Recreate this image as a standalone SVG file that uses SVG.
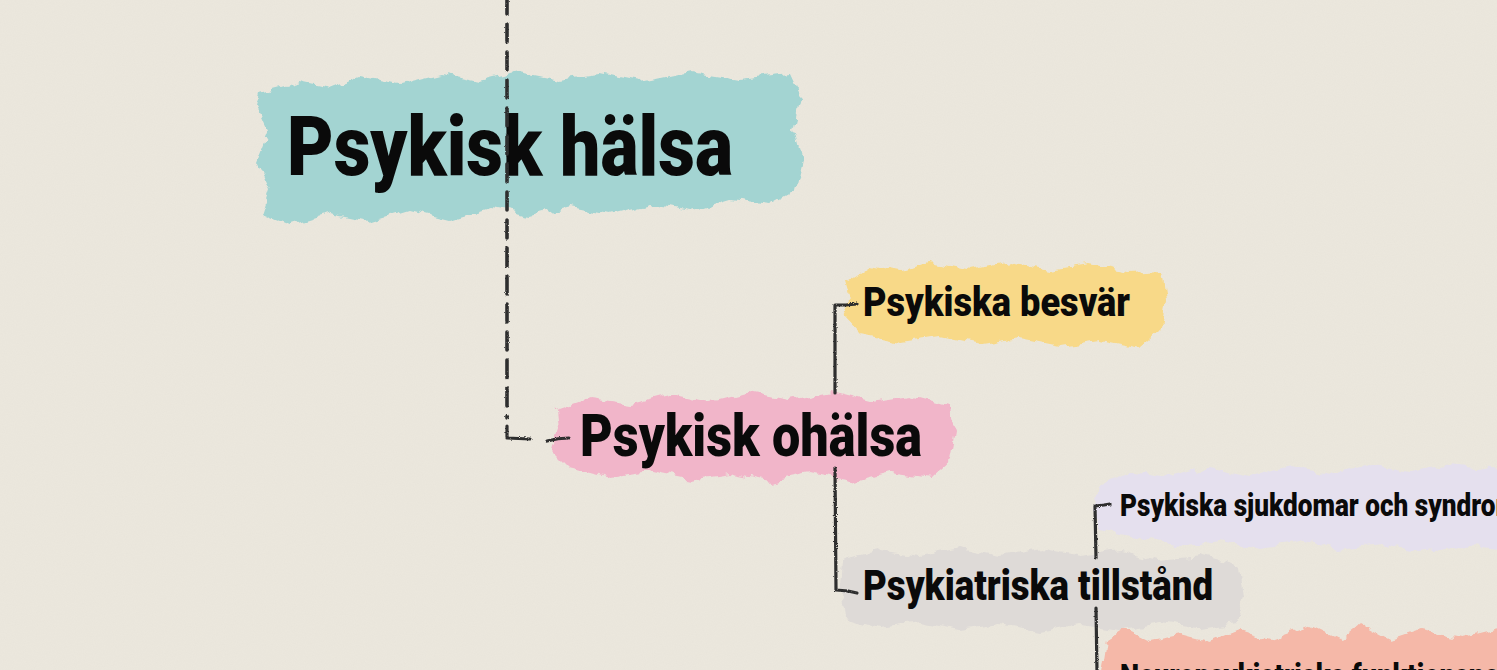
<svg xmlns="http://www.w3.org/2000/svg" width="1497" height="670" viewBox="0 0 1497 670">
  <defs>
    <filter id="paper" x="0" y="0" width="100%" height="100%">
      <feTurbulence type="fractalNoise" baseFrequency="0.9" numOctaves="3" seed="3" result="n"/>
      <feColorMatrix in="n" type="matrix" values="0 0 0 0 0.55  0 0 0 0 0.52  0 0 0 0 0.47  0 0 0 0.10 0" result="c"/>
      <feComposite in="c" in2="SourceGraphic" operator="over"/>
    </filter>
    <filter id="brush" x="-5%" y="-20%" width="110%" height="140%">
      <feTurbulence type="fractalNoise" baseFrequency="0.06" numOctaves="3" seed="7" result="t"/>
      <feDisplacementMap in="SourceGraphic" in2="t" scale="12" xChannelSelector="R" yChannelSelector="G"/>
    </filter>
    <filter id="pencil" x="-50%" y="-5%" width="200%" height="110%">
      <feTurbulence type="fractalNoise" baseFrequency="0.8" numOctaves="2" seed="2" result="t"/>
      <feDisplacementMap in="SourceGraphic" in2="t" scale="2.5" xChannelSelector="R" yChannelSelector="G"/>
    </filter>
  </defs>
  <style>
    .lbl { font-family: Roboto, "Liberation Sans", sans-serif; font-weight: 900; fill: #0a0a0a; }
    .con { fill: none; stroke: #2f2f2f; stroke-linecap: round; stroke-linejoin: round; }
    .dash { stroke-width: 3.6; stroke-dasharray: 18 10; }
    .solid { stroke-width: 3.2; }
    .blob { filter: url(#brush); }
  </style>

  <rect x="0" y="0" width="1497" height="670" fill="#ece8de" filter="url(#paper)"/>

  <g id="node-psykisk-halsa">
    <path class="blob" fill="#a3d4d2" d="M262,92 L300,82 L330,88 L360,76 L400,84 L440,74 L480,82 L520,72 L560,80 L600,74 L640,82 L690,72 L740,80 L790,74 L802,100 L795,130 L803,160 L796,190 L770,205 L730,200 L690,212 L650,204 L610,214 L570,206 L530,216 L490,208 L450,220 L410,210 L370,222 L330,214 L290,226 L262,215 L270,190 L256,160 L268,130 L258,108 Z"/>
    <text class="lbl" x="287" y="175" font-size="84" textLength="446" lengthAdjust="spacingAndGlyphs">Psykisk hälsa</text>
  </g>

  <g id="node-psykisk-ohalsa">
    <path class="blob" fill="#f1b5c9" d="M556,410 L590,398 L630,404 L670,394 L710,402 L750,392 L790,400 L830,392 L870,402 L910,396 L948,406 L955,430 L950,460 L930,478 L890,472 L850,482 L810,474 L770,482 L730,474 L690,480 L650,472 L610,478 L570,468 L552,450 L558,430 Z"/>
    <text class="lbl" x="580" y="456" font-size="59" textLength="342" lengthAdjust="spacingAndGlyphs">Psykisk ohälsa</text>
  </g>

  <g id="node-psykiska-besvar">
    <path class="blob" fill="#f8d988" d="M845,282 L870,266 L900,272 L930,262 L970,270 L1010,262 L1050,270 L1090,264 L1130,272 L1162,270 L1166,300 L1160,330 L1140,348 L1100,340 L1060,346 L1020,338 L980,344 L940,336 L900,342 L860,334 L842,315 L850,300 Z"/>
    <text class="lbl" x="863" y="316" font-size="41" textLength="267" lengthAdjust="spacingAndGlyphs">Psykiska besvär</text>
  </g>

  <g id="node-psykiatriska-tillstand">
    <path class="blob" fill="#dedad7" d="M842,560 L880,550 L920,556 L960,548 L1000,556 L1040,548 L1080,556 L1120,550 L1160,560 L1200,556 L1240,566 L1244,595 L1236,622 L1200,628 L1160,622 L1120,630 L1080,624 L1040,632 L1000,624 L960,630 L920,622 L880,628 L845,618 L840,590 Z"/>
    <text class="lbl" x="863" y="600" font-size="42" textLength="350" lengthAdjust="spacingAndGlyphs">Psykiatriska tillstånd</text>
  </g>

  <g id="node-psykiska-sjukdomar">
    <path class="blob" fill="#e5e0ee" d="M1098,488 L1130,472 L1170,478 L1210,468 L1250,476 L1290,466 L1330,474 L1370,464 L1410,472 L1450,464 L1500,470 L1500,550 L1460,546 L1420,552 L1380,544 L1340,550 L1300,542 L1260,548 L1220,540 L1180,546 L1140,538 L1100,530 L1094,510 Z"/>
    <text class="lbl" x="1120" y="516" font-size="31" textLength="398" lengthAdjust="spacingAndGlyphs">Psykiska sjukdomar och syndrom</text>
  </g>

  <g id="node-neuropsykiatriska">
    <path class="blob" fill="#f5b8a8" d="M1106,640 L1125,628 L1150,640 L1180,634 L1210,642 L1240,630 L1270,640 L1310,626 L1340,640 L1360,624 L1390,640 L1420,630 L1460,638 L1500,628 L1500,680 L1100,680 Z"/>
    <text class="lbl" x="1120" y="686" font-size="31" textLength="520" lengthAdjust="spacingAndGlyphs">Neuropsykiatriska funktionsnedsättningar</text>
  </g>

  <g id="connectors" filter="url(#pencil)">
    <path class="con dash" d="M507,-4 L507,418"/>
    <path class="con solid" d="M507,426 L507,438 L530,439" stroke-width="3.4"/>
    <path class="con solid" d="M547,441 Q558,438 569,438" stroke-width="4.5"/>
    <path class="con solid" d="M835,393 L835,305 L846,305 L857,304"/>
    <path class="con solid" d="M835,468 L836,590 L848,591 L857,593"/>
    <path class="con solid" d="M1096,558 L1095,506 L1104,505 L1110,504"/>
    <path class="con solid" d="M1096,608 L1097,672"/>
  </g>
</svg>
